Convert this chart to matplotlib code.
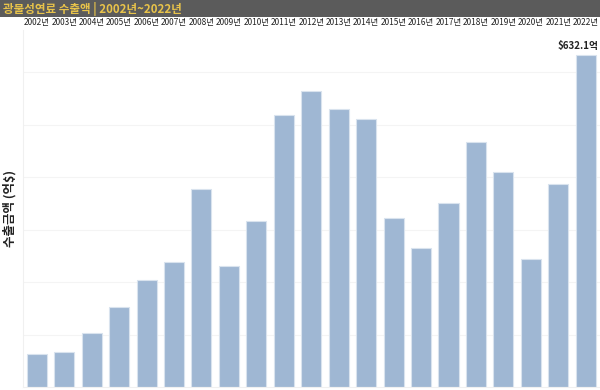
import numpy as np
import matplotlib
matplotlib.use('Agg')
import matplotlib.pyplot as plt
from matplotlib.patches import Rectangle

plt.rcParams['font.family'] = ['Noto Sans CJK KR', 'DejaVu Sans']

# data (unit: 억 $)
years = ['2002년', '2003년', '2004년', '2005년', '2006년', '2007년', '2008년',
         '2009년', '2010년', '2011년', '2012년', '2013년', '2014년', '2015년',
         '2016년', '2017년', '2018년', '2019년', '2020년', '2021년', '2022년']
exports = [63, 67, 102, 153, 204, 239, 377, 230, 316, 518, 563,
           530, 510, 321, 265, 351, 467, 410, 243, 386, 632.1]
title = '광물성연료 수출액 | 2002년~2022년'
ylabel = '수출금액 (억$)'
last_label = '$632.1억'

fig = plt.figure(figsize=(6, 3.9), dpi=100)

# title bar
fig.patches.append(Rectangle((0, 1 - 17 / 390), 1, 17 / 390, transform=fig.transFigure,
                             facecolor='#5b5b5b', edgecolor='none', zorder=0))
fig.text(3 / 600, 1 - 8.5 / 390, title, color='#e8c34a', fontsize=8.3,
         fontweight='bold', va='center', ha='left')

ax = fig.add_axes([23 / 600, 3 / 390, 576.5 / 600, 357 / 390])
x = np.arange(len(years))
ax.bar(x, exports, width=0.73, color='#9fb7d3', edgecolor='#d9e3ee', linewidth=0.8, zorder=2)

ax.set_xlim(-0.5, len(years) - 0.5)
ax.set_ylim(0, 680)
ax.set_yticks(np.arange(100, 700, 100))
ax.set_yticklabels([])
ax.tick_params(axis='y', length=0)
ax.grid(axis='y', color='#f4f4f4', linewidth=0.8, zorder=0)

ax.xaxis.tick_top()
ax.set_xticks(x)
ax.set_xticklabels(years, fontsize=6)
ax.tick_params(axis='x', length=0, pad=2, colors='#222222')

for s in ['top', 'right']:
    ax.spines[s].set_visible(False)
ax.spines['left'].set_color('#f0f0f0')
ax.spines['bottom'].set_color('#f0f0f0')

ax.text(len(years) - 0.52, exports[-1] + 8, last_label, ha='right', va='bottom',
        fontsize=7, fontweight='bold', color='#222222')

fig.text(10 / 600, (390 - 208) / 390, ylabel, rotation=90, va='center', ha='center',
         fontsize=9, fontweight='bold', color='#222222')

fig.savefig('out.png', dpi=100)
